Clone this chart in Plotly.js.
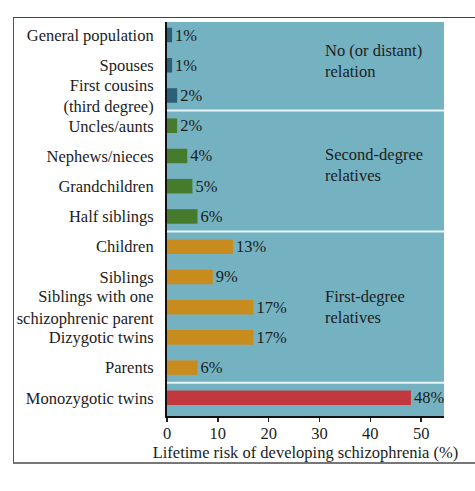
<!DOCTYPE html>
<html>
<head>
<meta charset="utf-8">
<script src="https://cdn.plot.ly/plotly-3.0.1.min.js"></script>
<style>
  html, body { margin: 0; padding: 0; background: #ffffff; overflow: hidden; }
  #wrap { position: relative; width: 475px; height: 491px; overflow: hidden; }
  #chart { position: absolute; left: 0; top: 0; width: 475px; height: 491px; }
  #frame { position: absolute; left: 13px; top: 17px; width: 520px; height: 444px;
           border-left: 1.5px solid #555; border-top: 1.5px solid #444; border-bottom: 2px solid #777;
           pointer-events: none; }
</style>
</head>
<body>
<div id="wrap">
  <div id="chart"></div>
  <div id="frame"></div>
</div>
<script>
// ---- data ----
const categories = [
  "General population",
  "Spouses",
  "First cousins<br>(third degree)",
  "Uncles/aunts",
  "Nephews/nieces",
  "Grandchildren",
  "Half siblings",
  "Children",
  "Siblings",
  "Siblings with one<br>schizophrenic parent",
  "Dizygotic twins",
  "Parents",
  "Monozygotic twins"
];
const riskValues = [1, 1, 2, 2, 4, 5, 6, 13, 9, 17, 17, 6, 48];
const valueLabels = ["1%", "1%", "2%", "2%", "4%", "5%", "6%", "13%", "9%", "17%", "17%", "6%", "48%"];
const groupOf = [0, 0, 0, 1, 1, 1, 1, 2, 2, 2, 2, 2, 3];
const groupNames = ["No (or distant)<br>relation", "Second-degree<br>relatives", "First-degree<br>relatives"];
const xTickValues = [0, 10, 20, 30, 40, 50];
const xTitle = "Lifetime risk of developing schizophrenia (%)";

// ---- styles ----
const groupColors = ["#2d5f78", "#467a2c", "#c88b1d", "#c1393f"];
const FONT = "'Liberation Serif', 'Times New Roman', serif";
const FS = 16.5;
const TXT = "#1c1c1c";
const barColors = groupOf.map(g => groupColors[g]);

// separators between groups (category index boundaries)
const separators = [];
for (let i = 1; i < groupOf.length; i++) {
  if (groupOf[i] !== groupOf[i - 1]) separators.push(i - 0.5);
}

const trace = {
  type: "bar",
  orientation: "h",
  y: categories,
  x: riskValues,
  text: valueLabels,
  textposition: "outside",
  constraintext: "none",
  textfont: { family: FONT, size: FS, color: TXT },
  cliponaxis: false,
  width: 0.48,
  marker: { color: barColors, line: { width: 0 } },
  hoverinfo: "skip"
};

const layout = {
  width: 475,
  height: 491,
  margin: { l: 167, r: 31, t: 22, b: 75 },
  paper_bgcolor: "rgba(0,0,0,0)",
  plot_bgcolor: "#74b2c1",
  showlegend: false,
  font: { family: FONT, size: FS, color: TXT },
  xaxis: {
    range: [0, 54.5],
    tickvals: xTickValues,
    ticks: "outside",
    ticklen: 4,
    tickwidth: 1.5,
    tickcolor: "#222",
    ticklabelstandoff: -3,
    showline: true,
    linecolor: "#111",
    linewidth: 2,
    showgrid: false,
    zeroline: false,
    tickfont: { family: FONT, size: FS, color: TXT },
    title: { text: xTitle, font: { family: FONT, size: FS, color: TXT }, standoff: 0 },
    fixedrange: true
  },
  yaxis: {
    type: "category",
    range: [12.6, -0.43],
    showline: true,
    linecolor: "#111",
    linewidth: 2,
    showgrid: false,
    zeroline: false,
    ticks: "",
    ticklabelstandoff: 8,
    tickfont: { family: FONT, size: FS, color: TXT },
    fixedrange: true
  },
  bargap: 0.5,
  shapes: separators.map(s => ({
    type: "line", xref: "paper", yref: "y",
    x0: 0, x1: 1, y0: s, y1: s,
    line: { color: "#e6f3f6", width: 2 }
  })),
  annotations: [
    { text: groupNames[0], x: 30.6, y: 0.9, yref: "paper" },
    { text: groupNames[1], x: 30.6, y: 0.637, yref: "paper" },
    { text: groupNames[2], x: 30.6, y: 0.277, yref: "paper" }
  ].map(a => Object.assign({
    xref: "x", xanchor: "left", yanchor: "middle", align: "left", showarrow: false,
    font: { family: FONT, size: FS, color: TXT }
  }, a))
};

Plotly.newPlot("chart", [trace], layout, { displayModeBar: false, staticPlot: true });
</script>
</body>
</html>
